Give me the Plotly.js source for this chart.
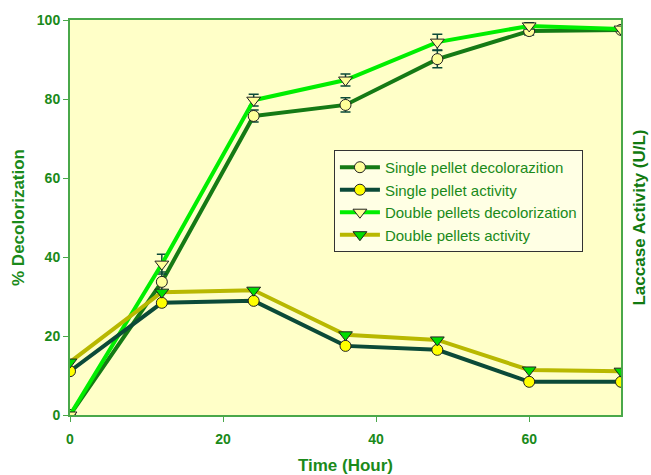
<!DOCTYPE html>
<html>
<head>
<meta charset="utf-8">
<script src="https://cdn.plot.ly/plotly-3.0.1.min.js"></script>
<style>html,body{margin:0;padding:0;background:#fff;}#chart{width:651px;height:475px;}</style>
</head>
<body>
<div id="chart"></div>
<script>
const hours = [0, 12, 24, 36, 48, 60, 72];
const singleDecol = [0, 33.7, 75.7, 78.5, 90.1, 97.2, 97.5];
const singleDecolErr = [0, 2.5, 1.5, 1.8, 2.2, 1.0, 0.5];
const doubleDecol = [0, 38.2, 79.7, 84.8, 94.4, 98.5, 97.7];
const doubleDecolErr = [0, 2.5, 1.5, 1.5, 2.0, 0.8, 0.5];
const singleAct = [11.1, 28.4, 28.9, 17.5, 16.5, 8.4, 8.4];
const doubleAct = [13.4, 31.1, 31.6, 20.3, 19.0, 11.4, 11.1];
const names = ["Single pellet decolorazition", "Single pellet activity", "Double pellets decolorization", "Double pellets activity"];

const errStyle = (arr) => ({type: 'data', array: arr, visible: true, color: '#0b4a38', thickness: 1.5, width: 5});

const traces = [
  {x: hours, y: singleDecol, name: names[0], type: 'scatter', mode: 'lines+markers',
   error_y: errStyle(singleDecolErr),
   line: {color: '#157a15', width: 4},
   marker: {symbol: 'circle', size: 11, color: '#ffff99', line: {color: '#222', width: 1}}},
  {x: hours, y: singleAct, name: names[1], type: 'scatter', mode: 'lines+markers', yaxis: 'y2',
   line: {color: '#0b4a38', width: 4},
   marker: {symbol: 'circle', size: 11, color: '#ffff00', line: {color: '#222', width: 1}}},
  {x: hours, y: doubleDecol, name: names[2], type: 'scatter', mode: 'lines+markers',
   error_y: errStyle(doubleDecolErr),
   line: {color: '#00ee00', width: 4},
   marker: {symbol: 'triangle-down', size: 12, color: '#ffff99', line: {color: '#222', width: 1}}},
  {x: hours, y: doubleAct, name: names[3], type: 'scatter', mode: 'lines+markers', yaxis: 'y2',
   line: {color: '#b8b800', width: 4},
   marker: {symbol: 'triangle-down', size: 12, color: '#00dd00', line: {color: '#222', width: 1}}}
];

const green = '#1a8a1a';
const axisLine = '#4aa84a';
const layout = {
  width: 651, height: 475,
  margin: {l: 70, r: 30, t: 20, b: 60},
  paper_bgcolor: '#ffffff',
  plot_bgcolor: '#ffffc8',
  showlegend: true,
  legend: {
    x: 0.479, y: 0.671, xanchor: 'left', yanchor: 'top',
    bgcolor: '#ffffe4', bordercolor: '#333333', borderwidth: 1,
    font: {family: 'Liberation Sans, Arial, sans-serif', size: 15, color: green},
    itemwidth: 40, tracegroupgap: 0
  },
  xaxis: {
    range: [0, 72], tickvals: [0, 20, 40, 60], ticks: 'outside', ticklen: 5, tickcolor: axisLine,
    ticklabelstandoff: 5,
    showgrid: false, zeroline: false, showline: true, linecolor: axisLine, linewidth: 2, mirror: true,
    tickfont: {family: 'Liberation Sans, Arial, sans-serif', size: 14, color: green, weight: 'bold'},
    title: {text: 'Time (Hour)', standoff: 14, font: {family: 'Liberation Sans, Arial, sans-serif', size: 17, color: green, weight: 'bold'}}
  },
  yaxis: {
    range: [0, 100], tickvals: [0, 20, 40, 60, 80, 100], ticks: 'outside', ticklen: 5, tickcolor: axisLine,
    showgrid: false, zeroline: false, showline: true, linecolor: axisLine, linewidth: 2, mirror: true,
    tickfont: {family: 'Liberation Sans, Arial, sans-serif', size: 14, color: green, weight: 'bold'},
    title: {text: '% Decolorization', standoff: 8, font: {family: 'Liberation Sans, Arial, sans-serif', size: 17, color: green, weight: 'bold'}}
  },
  yaxis2: {
    range: [0, 100], overlaying: 'y', side: 'right', showticklabels: false, ticks: '',
    showgrid: false, zeroline: false, showline: false,
    title: {text: 'Laccase Activity (U/L)', standoff: 12, font: {family: 'Liberation Sans, Arial, sans-serif', size: 17, color: '#117a11', weight: 'bold'}}
  }
};

Plotly.newPlot('chart', traces, layout, {displayModeBar: false, staticPlot: true});
</script>
</body>
</html>
